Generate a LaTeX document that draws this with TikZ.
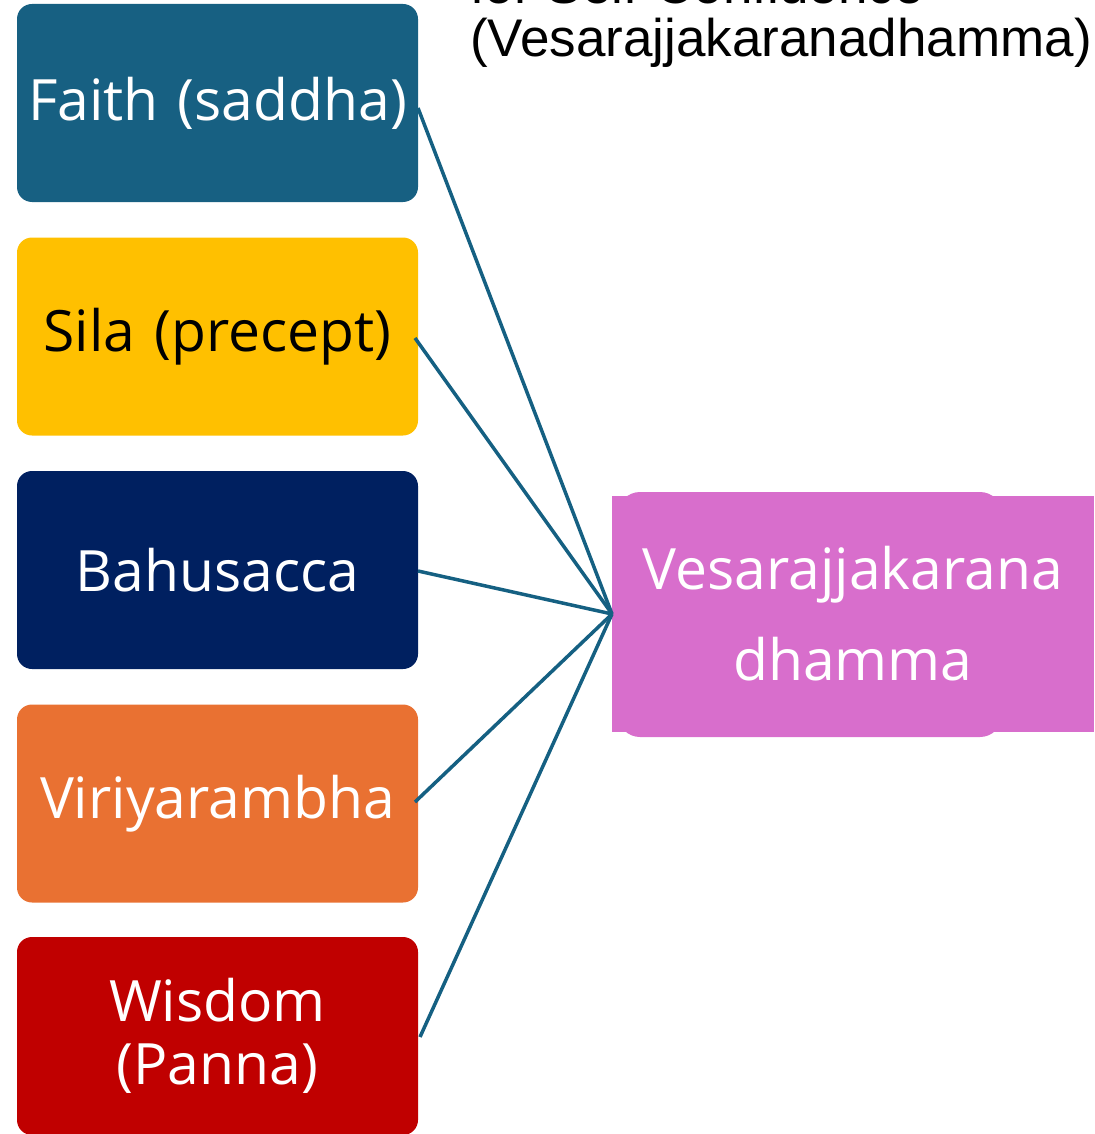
\documentclass[tikz,border=0pt]{standalone}
\usepackage{fontspec}
\setmainfont{Open Sans}
\newfontfamily\arialfont{Liberation Sans}
\definecolor{cfaith}{HTML}{176082}
\definecolor{csila}{HTML}{FFC000}
\definecolor{cbahu}{HTML}{002060}
\definecolor{cviri}{HTML}{E97132}
\definecolor{cwis}{HTML}{C00000}
\definecolor{cpink}{HTML}{D86ECC}
\definecolor{cline}{HTML}{156082}
\tikzset{
  srcbox/.style={rounded corners=15pt, minimum width=401pt, minimum height=198pt, inner sep=0pt, text width=401pt, align=center, font=\fontsize{57}{63}\selectfont},
  conn/.style={draw=cline, line width=3.5pt},
}
\begin{document}
\begin{tikzpicture}[x=1pt,y=-1pt]
\useasboundingbox (0,0) rectangle (1094,1134);
\node[srcbox, fill=cfaith, text=white] (faith) at (217.5,103) {Faith (saddha)};
\node[srcbox, fill=csila, text=black] (sila) at (217.5,336.5) {Sila (precept)};
\node[srcbox, fill=cbahu, text=white] (bahu) at (217.5,570) {Bahusacca};
\node[srcbox, fill=cviri, text=white] (viri) at (217.5,803.5) {Viriyarambha};
\node[srcbox, fill=cwis, text=white] (wis) at (217.5,1036) {Wisdom\\(Panna)};
% target
\fill[cpink, rounded corners=22pt] (618,492) rectangle (1002,737);
\node[fill=cpink, minimum width=482pt, minimum height=236pt, inner sep=0pt, text=white, align=center, font=\fontsize{57}{91}\selectfont] (tgt) at (853,614) {Vesarajjakarana\\dhamma};
\coordinate (hub) at (612,614);
\draw[conn] (418,108) -- (hub);
\draw[conn] (415,338) -- (hub);
\draw[conn] (418,571) -- (hub);
\draw[conn] (415,802) -- (hub);
\draw[conn] (420,1037) -- (hub);
\node[anchor=base west, inner sep=0pt, font=\arialfont\fontsize{53}{52}\selectfont] (title) at (470,4) {for Self-Confidence};
\node[anchor=base west, inner sep=0pt, font=\arialfont\fontsize{53}{52}\selectfont] (title2) at (470,57) {(Vesarajjakaranadhamma)};
\end{tikzpicture}
\end{document}
